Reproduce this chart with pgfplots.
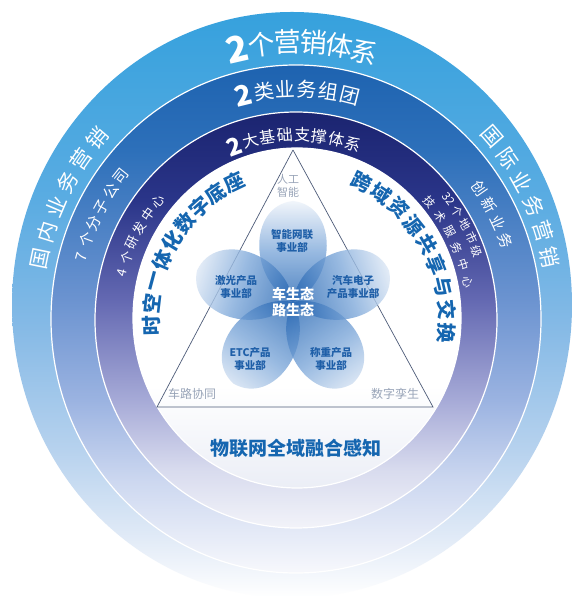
\documentclass[border=0pt]{standalone}
\usepackage{pgfplots}
\pgfplotsset{compat=1.18}
\usepackage{fontspec}
\setmainfont{Noto Sans CJK SC}
\usetikzlibrary{calc}

\definecolor{o0}{HTML}{FFFFFF}
\definecolor{o1}{HTML}{E2EBF7}
\definecolor{o2}{HTML}{B7D2EE}
\definecolor{o3}{HTML}{86BAE6}
\definecolor{o4}{HTML}{5AACE2}
\definecolor{o5}{HTML}{36A1DD}
\definecolor{r0}{HTML}{F7F8FC}
\definecolor{r1}{HTML}{CDD8F0}
\definecolor{r2}{HTML}{9BB3E1}
\definecolor{r3}{HTML}{6B93D0}
\definecolor{r4}{HTML}{2D70BA}
\definecolor{r5}{HTML}{1E63B0}
\definecolor{p0}{HTML}{F2F3F9}
\definecolor{p1}{HTML}{D8DBEE}
\definecolor{p2}{HTML}{A6AAD7}
\definecolor{p3}{HTML}{6469B2}
\definecolor{p4}{HTML}{2A3589}
\definecolor{p5}{HTML}{1B2470}
\definecolor{i0}{HTML}{EBEEF6}
\definecolor{i1}{HTML}{FFFFFF}
\definecolor{blueText}{HTML}{1566B0}
\definecolor{petalText}{HTML}{1F5FA8}
\definecolor{triText}{HTML}{98A4B8}
\definecolor{triLine}{HTML}{4D5B78}
\definecolor{petalD}{HTML}{2767B3}
\definecolor{petalM}{HTML}{7FA9DA}
\definecolor{petalL}{HTML}{EEF3FA}

\pgfdeclareverticalshading{outerS}{100bp}{color(0bp)=(o0); color(25bp)=(o0); color(30bp)=(o1); color(37.6bp)=(o2); color(48bp)=(o3); color(59bp)=(o4); color(75bp)=(o5); color(100bp)=(o5)}
\pgfdeclareverticalshading{ringS}{100bp}{color(0bp)=(r0); color(25bp)=(r0); color(34bp)=(r1); color(42bp)=(r2); color(52bp)=(r3); color(66.6bp)=(r4); color(75bp)=(r5); color(100bp)=(r5)}
\pgfdeclareverticalshading{baseS}{100bp}{color(0bp)=(p0); color(25bp)=(p0); color(32bp)=(p1); color(40.4bp)=(p2); color(52.4bp)=(p3); color(64.4bp)=(p4); color(75bp)=(p5); color(100bp)=(p5)}
\pgfdeclareverticalshading{innerS}{100bp}{color(0bp)=(i0); color(25bp)=(i0); color(40bp)=(i1); color(100bp)=(i1)}

% #1 opts, #2 cx, #3 cy, #4 a, #5 b, #6 start angle, #7 step, #8 list
\newcommand\arctext[8]{%
  \foreach \c [count=\i from 0] in {#8} {%
    \pgfmathsetmacro\ang{#6-\i*(#7)}%
    \node[inner sep=0pt, #1, rotate=\ang-90] at ({#2+#4*cos(\ang)}, {#3+#5*sin(\ang)}) {\c};
  }}

\begin{document}
\begin{tikzpicture}[x=1pt, y=1pt]
\begin{axis}[x=1pt, y=1pt, xmin=0, xmax=576, ymin=0, ymax=596,
  hide axis, anchor=origin, at={(0,0)}, clip=true]
\addplot[draw=none, fill=white] coordinates {(0,0) (576,0) (576,596) (0,596)} -- cycle;
% rings
\shade[shading=outerS] (axis cs:292,291) ellipse [x radius=280, y radius=293];
\shade[shading=ringS] (axis cs:296,277) ellipse [x radius=245, y radius=254];
\draw[white, line width=1.2pt] (axis cs:296,277) ellipse [x radius=245, y radius=254];
\shade[shading=baseS] (axis cs:296,276) ellipse [x radius=201, y radius=208];
\draw[white, line width=1.2pt] (axis cs:296,276) ellipse [x radius=201, y radius=208];
\shade[shading=innerS] (axis cs:297,278) ellipse [x radius=164, y radius=170];
\draw[white, line width=1.2pt] (axis cs:297,278) ellipse [x radius=164, y radius=170];
% triangle
\addplot[draw=triLine, line width=0.7pt, mark=none] coordinates {(293,446) (157,189) (433,189) (293,446)};
% petals
\pgfplotsinvokeforeach{90,162,234,306,18}{
  \shade[top color=petalL, bottom color=petalD, middle color=petalM, shading angle={#1-90}, opacity=0.8]
   (axis cs:293,294) .. controls ($(axis cs:293,294)+({#1}:20pt)+({#1+90}:44pt)$) and ($(axis cs:293,294)+({#1}:96pt)+({#1+90}:46pt)$) .. ($(axis cs:293,294)+({#1}:101pt)$) .. controls ($(axis cs:293,294)+({#1}:96pt)+({#1-90}:46pt)$) and ($(axis cs:293,294)+({#1}:20pt)+({#1-90}:44pt)$) .. (axis cs:293,294) -- cycle;
}
\end{axis}

% ---- texts ----
% outer band
\node[inner sep=0pt, text=white, font=\fontsize{36}{36}\bfseries\selectfont, rotate=102.9-90] at ({295+260*cos(102.9)}, {284+270*sin(102.9)}) {2};
\arctext{text=white, font=\fontsize{27}{27}\selectfont}{295}{284}{260}{270}{97.3}{5.7}{个,营,销,体,系}
\arctext{text=white, font=\fontsize{21}{21}\selectfont}{295}{284}{260}{268}{168.5}{5.8}{国,内,业,务,营,销}
\arctext{text=white, font=\fontsize{21}{21}\selectfont}{295}{284}{260}{268}{40.8}{5.8}{国,际,业,务,营,销}
% ring 2 band
\node[inner sep=0pt, text=white, font=\fontsize{28}{28}\bfseries\selectfont, rotate=103.8-90] at ({296+223*cos(103.8)}, {276+231*sin(103.8)}) {2};
\arctext{text=white, font=\fontsize{20}{20}\selectfont}{296}{276}{223}{231}{98.25}{5.55}{类,业,务,组,团}
\arctext{text=white, font=\fontsize{15}{15}\selectfont}{296}{276}{223}{231}{164.2}{4.5}{7,个,分,子,公,司}
\arctext{text=white, font=\fontsize{15}{15}\selectfont}{296}{276}{223}{231}{34.8}{4.9}{创,新,业,务}
% ring 3 band
\node[inner sep=0pt, text=white, font=\fontsize{24}{24}\bfseries\selectfont, rotate=110.2-90] at ({296+180*cos(110.2)}, {276+185*sin(110.2)}) {2};
\arctext{text=white, font=\fontsize{16}{16}\selectfont}{296}{276}{180}{185}{104.5}{5.5}{大,基,础,支,撑,体,系}
\arctext{text=white, font=\fontsize{13}{13}\selectfont}{296}{276}{180}{185}{165.3}{5.0}{4,个,研,发,中,心}
\arctext{text=white, font=\fontsize{11.5}{11.5}\selectfont}{296}{276}{193}{198}{37.5}{4.3}{32,个,地,市,级}
\arctext{text=white, font=\fontsize{11.5}{11.5}\selectfont}{296}{276}{176}{180}{40.8}{5.74}{技,术,服,务,中,心}
% inner blue arcs
\arctext{text=blueText, font=\fontsize{20}{20}\bfseries\selectfont}{297}{274}{146}{155}{181.5}{8.25}{时,空,一,体,化,数,字,底,座}
\arctext{text=blueText, font=\fontsize{20}{20}\bfseries\selectfont}{297}{274}{150}{155}{64.3}{8.54}{跨,域,资,源,共,享,与,交,换}
\node[text=blueText, font=\fontsize{19}{19}\bfseries\selectfont] at (296,148) {物联网全域融合感知};
% triangle corners
\node[text=triText, align=center, font=\fontsize{11}{13}\selectfont] at (288,410) {人工\\智能};
\node[text=triText, font=\fontsize{12}{12}\selectfont] at (192,202) {车路协同};
\node[text=triText, font=\fontsize{12}{12}\selectfont] at (395,202) {数字孪生};
% petal labels
\node[text=petalText, align=center, font=\fontsize{10.5}{13.5}\bfseries\selectfont] at (292,355) {智能网联\\事业部};
\node[text=petalText, align=center, font=\fontsize{10.5}{13.5}\bfseries\selectfont] at (236,309) {激光产品\\事业部};
\node[text=petalText, align=center, font=\fontsize{10.5}{13.5}\bfseries\selectfont] at (353,309) {汽车电子\\产品事业部};
\node[text=petalText, align=center, font=\fontsize{10.5}{13.5}\bfseries\selectfont] at (250,237) {ETC产品\\事业部};
\node[text=petalText, align=center, font=\fontsize{10.5}{13.5}\bfseries\selectfont] at (331,237) {称重产品\\事业部};
\node[text=white, align=center, font=\fontsize{14}{16}\bfseries\selectfont] at (293,294) {车生态\\路生态};
\end{tikzpicture}
\end{document}
